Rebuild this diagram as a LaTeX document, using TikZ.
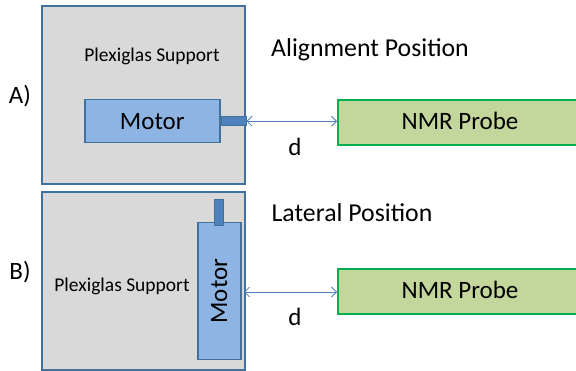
\documentclass[tikz,border=0pt]{standalone}
\usepackage{fontspec}
\setmainfont{Carlito}
\usetikzlibrary{positioning,arrows.meta}

\definecolor{frameblue}{RGB}{65,113,156}
\definecolor{supportgrey}{RGB}{217,217,217}
\definecolor{motorblue}{RGB}{142,180,227}
\definecolor{shaftblue}{RGB}{79,129,189}
\definecolor{probegreen}{RGB}{195,214,155}
\definecolor{probeedge}{RGB}{0,176,80}

\begin{document}
\begin{tikzpicture}[x=1pt,y=-1pt,
  every node/.style={inner sep=0pt,font=\fontsize{25}{30}\selectfont},
  support/.style={draw=frameblue,fill=supportgrey,line width=2pt,minimum width=203pt,minimum height=178pt,anchor=north west},
  motor/.style={draw=frameblue,fill=motorblue,line width=1.5pt},
  shaft/.style={draw=frameblue,fill=shaftblue,line width=1pt},
  probe/.style={draw=probeedge,fill=probegreen,line width=2pt,minimum width=242pt,minimum height=45pt,anchor=north west},
  small/.style={font=\fontsize{19.5}{23}\selectfont},
  title/.style={font=\fontsize{25.8}{30}\selectfont},
  dist/.style={draw=shaftblue,line width=0.8pt,{Straight Barb[length=5pt,width=10pt]}-{Straight Barb[length=5pt,width=10pt]}}]
  \clip (0,0) rectangle (576,371);
  \useasboundingbox (0,0) rectangle (576,371);

  % A) alignment position
  \node[support] (suppA) at (41,5) {};
  \node[small] (plexA) at (152,56) {Plexiglas Support};
  \node[motor,minimum width=135pt,minimum height=43pt,anchor=north west] (motA) at (84,99) {Motor};
  \node[shaft,minimum width=25pt,minimum height=9pt,anchor=west] (shaftA) at (motA.east) {};
  \node[probe] (probeA) at (337,99) {};
  \node (probeAtxt) at (460,121) {NMR Probe};
  \node (labA) at (20,96) {A)};
  \node[title] (posA) at (370,50) {Alignment Position};
  \draw[dist] (shaftA.east) -- (shaftA.east -| probeA.west);
  \node (dA) at (295,147) {d};

  % B) lateral position
  \node[support] (suppB) at (41,191) {};
  \node[small] (plexB) at (122,286) {Plexiglas Support};
  \node[motor,minimum width=43pt,minimum height=137pt,anchor=north west] (motB) at (197,222) {};
  \node[rotate=90] (motBtxt) at (motB.center) {Motor};
  \node[shaft,minimum width=9pt,minimum height=26pt,anchor=south] (shaftB) at ([yshift=-4pt]motB.north) {};
  \node[probe] (probeB) at (337,268) {};
  \node (probeBtxt) at (460,290) {NMR Probe};
  \node (labB) at (20,272) {B)};
  \node[title] (posB) at (352,213) {Lateral Position};
  \coordinate (armB) at (244,292);
  \draw[dist] (armB) -- (armB -| probeB.west);
  \node (dB) at (295,317) {d};
\end{tikzpicture}
\end{document}
